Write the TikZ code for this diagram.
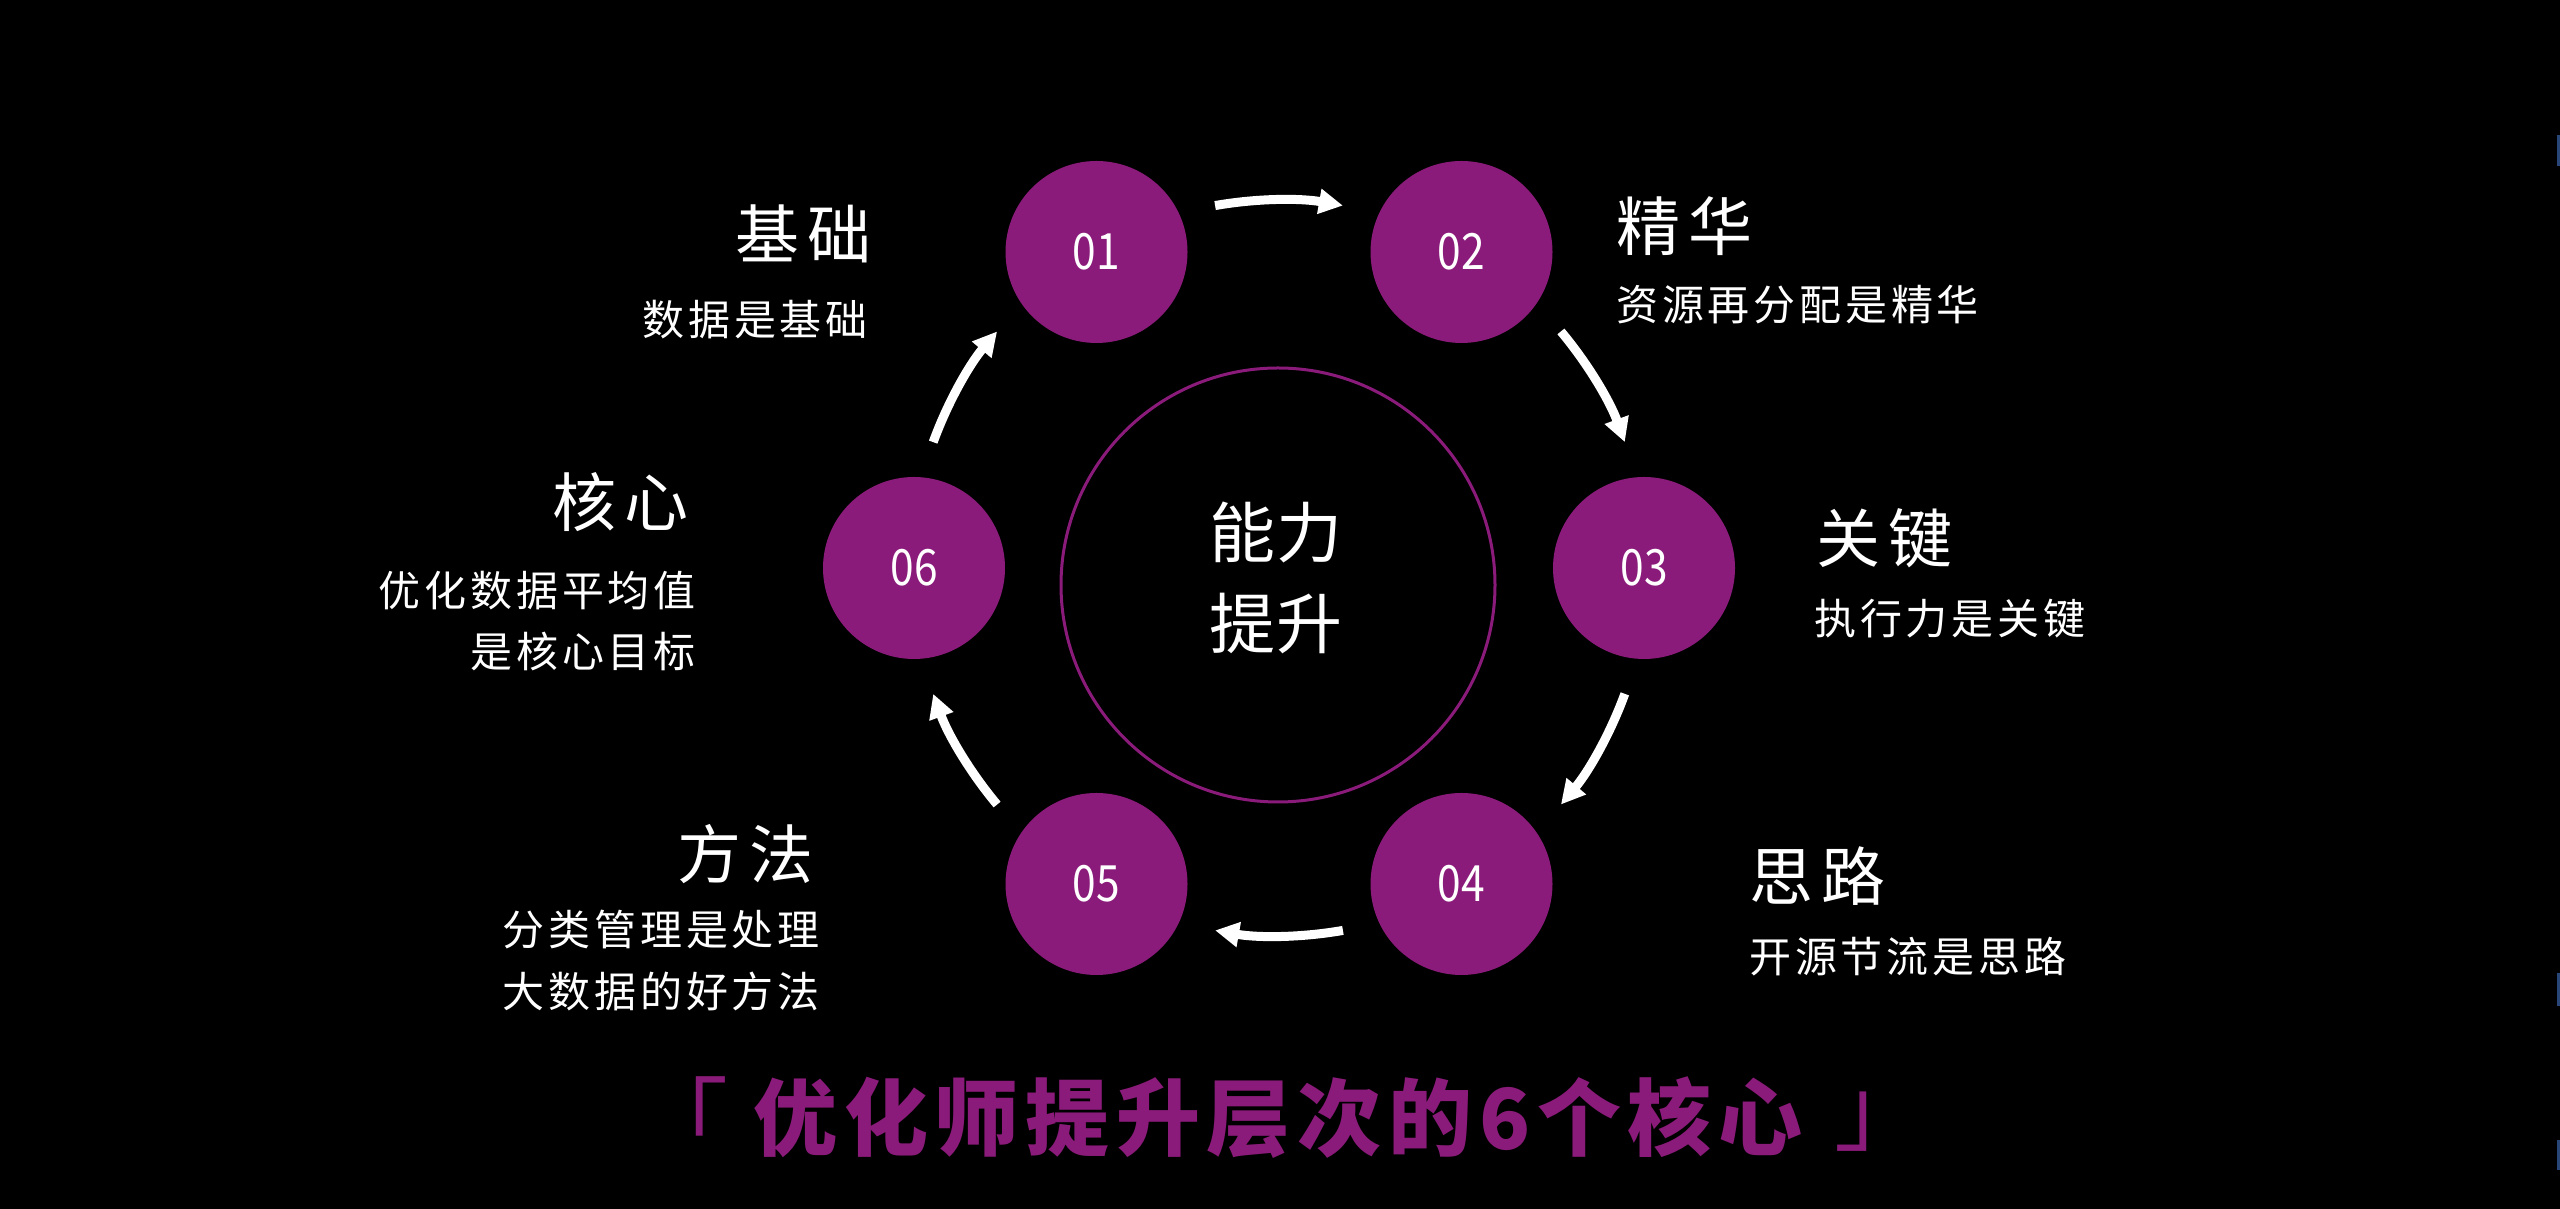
\documentclass[tikz,border=0pt]{standalone}
\usepackage{fontspec}
\usetikzlibrary{arrows.meta}
\newfontfamily\lblfont{Noto Sans CJK SC}[LetterSpace=9]
\newfontfamily\headfont{Noto Sans CJK SC}[LetterSpace=12]
\newfontfamily\ctrfont{Noto Sans CJK SC}[LetterSpace=3]
\newfontfamily\ttlfont{Noto Sans CJK SC}[LetterSpace=8]
\newfontfamily\brkfont{Noto Sans CJK SC}
\newfontfamily\numfont{Noto Sans CJK SC}[FakeStretch=0.85]
\definecolor{pur}{RGB}{139,27,122}
\definecolor{edgeblue}{RGB}{40,70,120}
\tikzset{
  numnode/.style={circle, fill=pur, minimum size=91pt, inner sep=0pt, text=white,
    font=\numfont\fontsize{25}{25}\selectfont},
  headlbl/.style={text=white, inner sep=0pt, font=\headfont\fontsize{32}{32}\selectfont},
  desclbl/.style={text=white, inner sep=0pt, font=\lblfont\fontsize{21}{21}\selectfont},
  ctrlbl/.style={text=white, inner sep=0pt, font=\ctrfont\fontsize{33}{33}\selectfont},
  bracketlbl/.style={text=pur, inner sep=0pt, font=\brkfont\fontsize{46}{46}\selectfont},
  flowarrow/.style={white, line width=4.5pt, line cap=butt, -{Triangle[length=12pt,width=12pt]}}
}
\begin{document}
\begin{tikzpicture}[x=0.5pt,y=0.5pt]
\fill[black] (0,0) rectangle (2560,1209);
\useasboundingbox (0,0) rectangle (2560,1209);
% edge artifacts
\fill[edgeblue] (2557,1043) rectangle (2560,1074);
\fill[edgeblue] (2557,203) rectangle (2560,236);
\fill[edgeblue] (2557,39) rectangle (2560,69);

\coordinate (H) at (1279,641);
% central ring
\node[circle, draw=pur, line width=1.5pt, minimum size=217pt, inner sep=0pt] (ring) at (1278,624) {};
\node[ctrlbl] (c1) at (1276,677) {能力};
\node[ctrlbl] (c2) at (1276,585) {提升};

% numbered circles
\node[numnode] (n1) at (1096.5,957) {01};
\node[numnode] (n2) at (1461.5,957) {02};
\node[numnode] (n3) at (1644,641) {03};
\node[numnode] (n4) at (1461.5,325) {04};
\node[numnode] (n5) at (1096.5,325) {05};
\node[numnode] (n6) at (914,641) {06};

% arrows (arcs around the centre)
\draw[flowarrow] (H) ++(100:184pt) arc[start angle=100, end angle=80, radius=184pt];
\draw[flowarrow] (H) ++(40:184pt) arc[start angle=40, end angle=20, radius=184pt];
\draw[flowarrow] (H) ++(-20:184pt) arc[start angle=-20, end angle=-40, radius=184pt];
\draw[flowarrow] (H) ++(-80:184pt) arc[start angle=-80, end angle=-100, radius=184pt];
\draw[flowarrow] (H) ++(-140:184pt) arc[start angle=-140, end angle=-160, radius=184pt];
\draw[flowarrow] (H) ++(160:184pt) arc[start angle=160, end angle=140, radius=184pt];

% labels
\node[headlbl, anchor=east] (h1) at (872,975) {基础};
\node[desclbl, anchor=east] (d1) at (868,889) {数据是基础};
\node[headlbl, anchor=west] (h2) at (1616,983) {精华};
\node[desclbl, anchor=west] (d2) at (1616,904) {资源再分配是精华};
\node[headlbl, anchor=west] (h3) at (1816,671) {关键};
\node[desclbl, anchor=west] (d3) at (1814,590) {执行力是关键};
\node[headlbl, anchor=west] (h4) at (1749,333) {思路};
\node[desclbl, anchor=west] (d4) at (1749,252) {开源节流是思路};
\node[headlbl, anchor=east] (h5) at (814,355) {方法};
\node[desclbl, anchor=east] (d5a) at (820,279) {分类管理是处理};
\node[desclbl, anchor=east] (d5b) at (820,218) {大数据的好方法};
\node[headlbl, anchor=east] (h6) at (689,707) {核心};
\node[desclbl, anchor=east] (d6a) at (696,618) {优化数据平均值};
\node[desclbl, anchor=east] (d6b) at (696,558) {是核心目标};

% title
\node[text=pur, inner sep=0pt, font=\ttlfont\bfseries\fontsize{42}{42}\selectfont] (title) at (1278,91) {优化师提升层次的6个核心};
\node[bracketlbl] (tl) at (682,93) {「};
\node[bracketlbl] (tr) at (1880,87) {」};
\end{tikzpicture}
\end{document}
